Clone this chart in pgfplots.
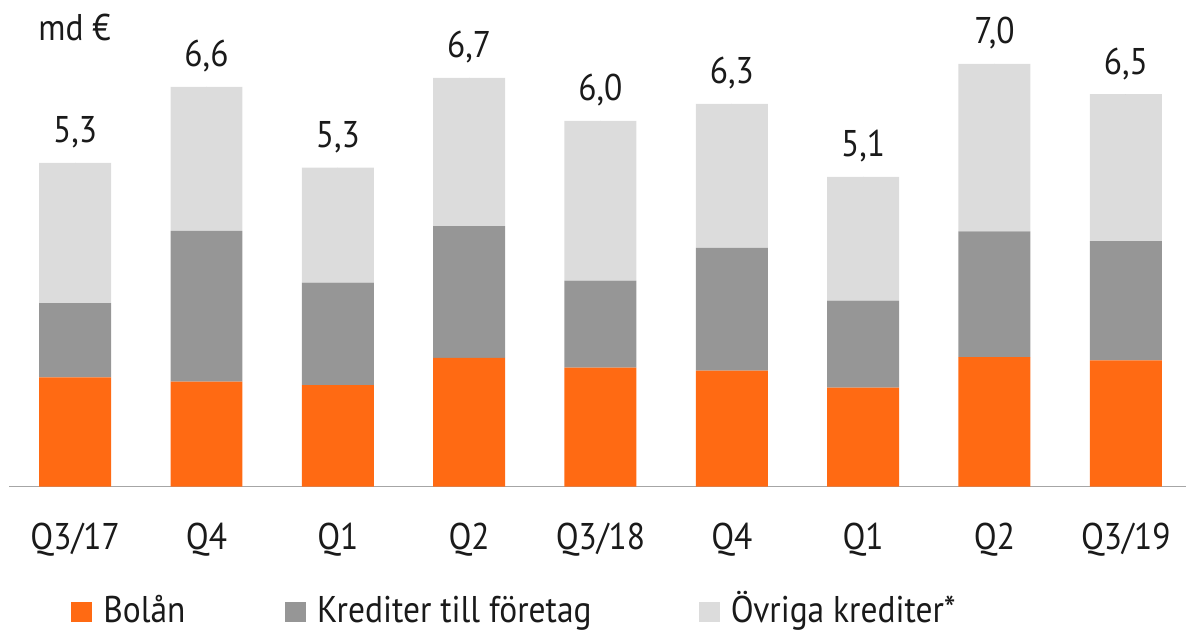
\documentclass[border=0pt]{standalone}
\usepackage{fontspec}
\setmainfont{PT Sans}[FakeStretch=0.9]
\usepackage{pgfplots}
\pgfplotsset{compat=1.18}
\definecolor{ingorange}{HTML}{FF6A13}
\definecolor{dgrey}{HTML}{969696}
\definecolor{lgrey}{HTML}{DCDCDC}
\definecolor{axgrey}{HTML}{A6A6A6}
\definecolor{txt}{HTML}{1A1A1A}
\begin{document}
\begin{tikzpicture}
\begin{axis}[
  at={(0,0)}, anchor=south west,
  scale only axis, width=588.75pt, height=243.5pt,
  ybar stacked, bar width=0.548,
  xmin=-0.5, xmax=8.46, ymin=0, ymax=8.01,
  axis x line*=bottom, axis y line=none,
  x axis line style={color=axgrey, line width=0.8pt, -},
  xtick={0,...,8},
  xticklabels={Q3/17,Q4,Q1,Q2,Q3/18,Q4,Q1,Q2,Q3/19},
  major tick length=0pt,
  xticklabel style={anchor=base, yshift=-31.5pt, inner sep=0pt, font=\fontsize{18.6}{22}\selectfont, text=txt},
  clip=false,
  legend columns=3,
  legend style={draw=none, fill=none, at={(axis cs:-0.5,0)}, anchor=north west,
    xshift=30.75pt, yshift=-52pt, column sep=0pt, inner sep=0pt,
    nodes={inner sep=0pt, anchor=base west, font=\fontsize{18.6}{22}\selectfont, text=txt}},
  legend image code/.code={\fill[#1] (0pt,0pt) rectangle (10.5pt,10pt); \path (16pt,0pt);},
]
\addplot[fill=ingorange, draw=none] coordinates {(0,1.80) (1,1.73) (2,1.67) (3,2.12) (4,1.96) (5,1.91) (6,1.63) (7,2.13) (8,2.08)};
\addlegendentry{\makebox[91pt][l]{Bolån}}
\addplot[fill=dgrey, draw=none] coordinates {(0,1.22) (1,2.48) (2,1.69) (3,2.17) (4,1.43) (5,2.02) (6,1.43) (7,2.07) (8,1.96)};
\addlegendentry{\makebox[191pt][l]{Krediter till företag}}
\addplot[fill=lgrey, draw=none] coordinates {(0,2.31) (1,2.37) (2,1.89) (3,2.44) (4,2.63) (5,2.37) (6,2.04) (7,2.76) (8,2.42)};
\addlegendentry{Övriga krediter*}
\node[anchor=base west, inner sep=0pt, font=\fontsize{18.6}{22}\selectfont, text=txt] at (rel axis cs:0,0) [xshift=14.25pt, yshift=223pt] {md €};
\end{axis}
\begin{axis}[
  at={(0,0)}, anchor=south west,
  scale only axis, width=588.75pt, height=243.5pt,
  xmin=-0.5, xmax=8.46, ymin=0, ymax=8.01,
  hide axis, clip=false,
]
\addplot[only marks, mark=*, mark size=0pt, mark options={draw=none, fill=none},
  nodes near coords, point meta=explicit symbolic,
  every node near coord/.style={anchor=base, yshift=10pt, inner sep=0pt, font=\fontsize{18.6}{22}\selectfont, text=txt}]
  table[meta=lab] {
x y lab
0 5.33 5,3
1 6.58 6,6
2 5.25 5,3
3 6.73 6,7
4 6.02 6,0
5 6.30 6,3
6 5.10 5,1
7 6.96 7,0
8 6.46 6,5
};
\end{axis}
\path[use as bounding box] (-4.75pt,-71.5pt) rectangle (588.75pt,243.5pt);
\end{tikzpicture}
\end{document}
